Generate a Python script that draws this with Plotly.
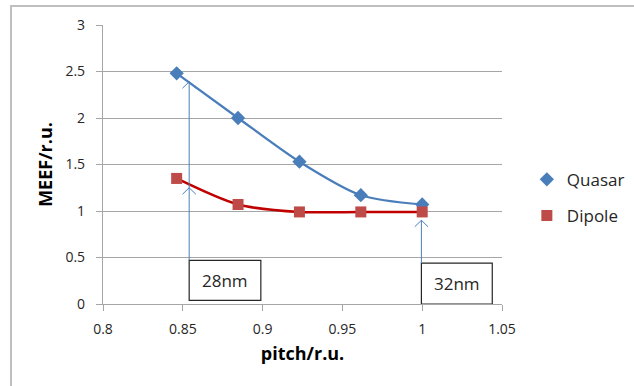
import plotly.graph_objects as go

pitch = [22/26, 23/26, 24/26, 25/26, 1.0]
quasar = [2.48, 2.00, 1.53, 1.17, 1.07]
dipole = [1.35, 1.07, 0.99, 0.99, 0.99]

labels = ["28nm", "32nm"]

FONT = "'Open Sans', Lato, sans-serif"
BLUE = "#4A7EBB"
RED_LINE = "#C00000"
RED_MK = "#BE4B48"
GRID = "#A6A6A6"
TXT = "#262626"

fig = go.Figure()
fig.add_trace(go.Scatter(
    x=pitch, y=quasar, name="Quasar", mode="lines+markers",
    line=dict(color=BLUE, width=2.2, shape="spline", smoothing=0.8),
    marker=dict(symbol="diamond", size=11, color=BLUE),
    showlegend=False,
))
fig.add_trace(go.Scatter(
    x=pitch, y=dipole, name="Dipole", mode="lines+markers",
    line=dict(color=RED_LINE, width=2.5, shape="spline", smoothing=0.8),
    marker=dict(symbol="square", size=11, color=RED_MK),
    showlegend=False,
))
fig.add_trace(go.Scatter(x=[None], y=[None], name="Quasar", mode="markers",
                         marker=dict(symbol="diamond", size=11, color=BLUE), legendgroup="q"))
fig.add_trace(go.Scatter(x=[None], y=[None], name="Dipole", mode="markers",
                         marker=dict(symbol="square", size=11, color=RED_MK), legendgroup="d"))

shapes = []
shapes.append(dict(type="rect", xref="paper", yref="paper",
                   x0=-0.2306, x1=1.4, y0=-0.4, y1=1.068,
                   line=dict(color="#BFBFBF", width=2), fillcolor="rgba(0,0,0,0)", layer="below"))

boxes = [(0.854, 0.8989, 0.04, 0.47), (0.9995, 1.0439, 0.0, 0.44)]
for (x0, x1, y0, y1) in boxes:
    shapes.append(dict(type="rect", xref="x", yref="y", x0=x0, x1=x1, y0=y0, y1=y1,
                       line=dict(color=TXT, width=1.2), fillcolor="white"))

dx, dy = 0.0042, 0.07
def arrow(x, y0, tips):
    shapes.append(dict(type="line", xref="x", yref="y", x0=x, x1=x, y0=y0, y1=max(tips),
                       line=dict(color=BLUE, width=1)))
    for t in tips:
        shapes.append(dict(type="path", xref="x", yref="y",
                           path=f"M {x-dx},{t-dy} L {x},{t} L {x+dx},{t-dy}",
                           line=dict(color=BLUE, width=1)))

arrow(0.854, 0.47, [1.25, 2.39])
arrow(0.9995, 0.44, [0.9])

annotations = [
    dict(x=0.8765, y=0.255, xref="x", yref="y", text=labels[0], showarrow=False,
         font=dict(family=FONT, size=17, color=TXT)),
    dict(x=1.022, y=0.225, xref="x", yref="y", text=labels[1], showarrow=False,
         font=dict(family=FONT, size=17, color=TXT)),
]

fig.update_layout(
    width=634, height=386,
    margin=dict(l=103, r=132, t=25, b=82, autoexpand=False),
    paper_bgcolor="white", plot_bgcolor="white",
    font=dict(family=FONT, size=14, color=TXT),
    showlegend=True,
    legend=dict(xref="container", yref="container", x=0.831, y=0.581,
                xanchor="left", yanchor="top",
                font=dict(family=FONT, size=17, color=TXT),
                tracegroupgap=11, traceorder="grouped", itemwidth=30,
                bgcolor="rgba(0,0,0,0)"),
    xaxis=dict(range=[0.8, 1.05], tickvals=[0.8, 0.85, 0.9, 0.95, 1.0, 1.05],
               ticktext=["0.8", "0.85", "0.9", "0.95", "1", "1.05"],
               tickfont=dict(family=FONT, size=14, color=TXT), automargin=False,
               showgrid=False, zeroline=False, showline=True, linecolor=GRID, linewidth=1.2,
               ticks="outside", ticklen=6, tickcolor=GRID, ticklabelstandoff=6,
               title=dict(text="<b>pitch/r.u.</b>", font=dict(family=FONT, size=18, color="#000"), standoff=10)),
    yaxis=dict(range=[0, 3], tickvals=[0, 0.5, 1, 1.5, 2, 2.5, 3],
               ticktext=["0", "0.5", "1", "1.5", "2", "2.5", "3"],
               tickfont=dict(family=FONT, size=14, color=TXT), automargin=False,
               showgrid=True, gridcolor=GRID, gridwidth=1.2, zeroline=False,
               showline=True, linecolor=GRID, linewidth=1.2,
               ticks="outside", ticklen=6, tickcolor=GRID, ticklabelstandoff=8,
               title=dict(text="<b>MEEF/r.u.</b>", font=dict(family=FONT, size=18, color="#000"), standoff=8)),
    shapes=shapes,
    annotations=annotations,
)

fig.write_html("out.html")
